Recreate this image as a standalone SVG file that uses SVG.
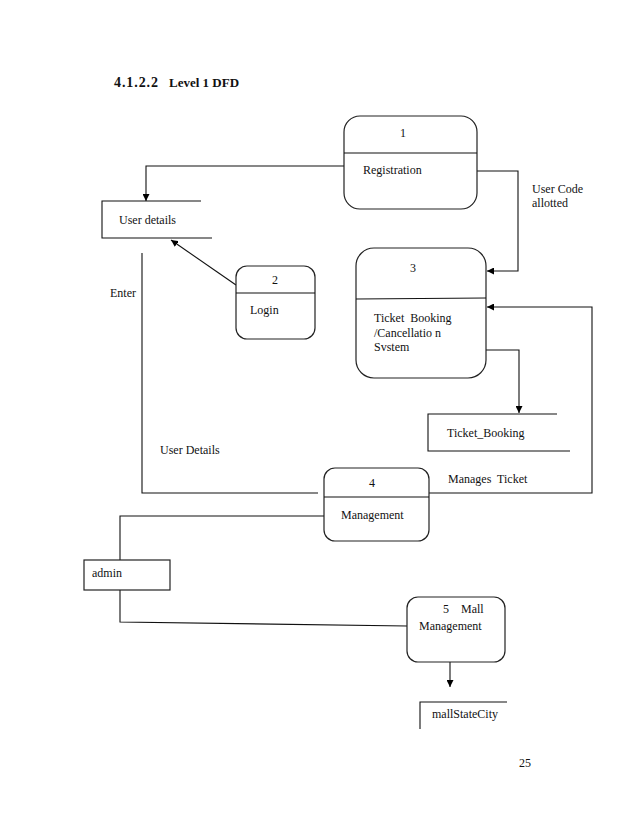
<svg xmlns="http://www.w3.org/2000/svg" width="638" height="826" viewBox="0 0 638 826">
<defs>
<marker id="ah" viewBox="0 0 10 10" refX="10" refY="5" markerWidth="7" markerHeight="7" orient="auto" markerUnits="userSpaceOnUse">
<path d="M0,0 L10,5 L0,10 z" fill="#000"/>
</marker>
<style>
text{font-family:"Liberation Serif","Times New Roman",serif;font-size:12px;fill:#111}
.p{fill:#fff;stroke:#222;stroke-width:1.2}
.l{fill:none;stroke:#111;stroke-width:1.1}
.c{fill:none;stroke:#111;stroke-width:1.1}
.m{text-anchor:middle}
.t{font-weight:bold;font-size:14px}
.t2{font-weight:bold;font-size:13px}
</style>
</defs>
<rect width="638" height="826" fill="#fff"/>
<text class="t" x="114" y="87" textLength="44">4.1.2.2</text>
<text class="t2" x="169" y="87">Level 1 DFD</text>

<g id="connectors">
<path class="c" d="M344,166 H146 V201" marker-end="url(#ah)"/>
<path class="c" d="M236,285 L171,240" marker-end="url(#ah)"/>
<path class="c" d="M477,171 H518 V271 H487" marker-end="url(#ah)"/>
<path class="c" d="M486,350 H519 V413" marker-end="url(#ah)"/>
<path class="c" d="M429,493 H592 V307 H487" marker-end="url(#ah)"/>
<path class="c" d="M142,253 V493 H318"/>
<path class="c" d="M324,516 H120 V560"/>
<path class="c" d="M120,590 V622 L407,626"/>
<path class="c" d="M450,662 V687" marker-end="url(#ah)"/>
<text x="532" y="193">User Code</text>
<text x="532" y="207">allotted</text>
<text x="110" y="297">Enter</text>
<text x="160" y="454">User Details</text>
<text x="448" y="483" xml:space="preserve">Manages  Ticket</text>
</g>

<g id="node1">
<rect class="p" x="344" y="116" width="133" height="93" rx="16"/>
<line class="l" x1="344" y1="153" x2="477" y2="153"/>
<text class="m" x="403" y="137">1</text>
<text x="363" y="174">Registration</text>
</g>

<g id="userdetails">
<path class="l" d="M201,201 H102 V238 H212"/>
<text x="119" y="224">User details</text>
</g>

<g id="node2">
<rect class="p" x="236" y="266" width="79" height="73" rx="11"/>
<line class="l" x1="236" y1="293" x2="315" y2="293"/>
<text class="m" x="275" y="284">2</text>
<text x="250" y="314">Login</text>
</g>

<g id="node3">
<rect class="p" x="356" y="248" width="130" height="130" rx="18"/>
<line class="l" x1="356" y1="299" x2="486" y2="298"/>
<text class="m" x="413" y="272">3</text>
<text x="374" y="322" xml:space="preserve">Ticket  Booking</text>
<text x="374" y="337">/Cancellatio n</text>
<text x="374" y="351">Svstem</text>
</g>

<g id="ticketbooking">
<path class="l" d="M557,414 H428 V451 H570"/>
<text x="447" y="437">Ticket_Booking</text>
</g>

<g id="node4">
<rect class="p" x="324" y="468" width="105" height="73" rx="11"/>
<line class="l" x1="324" y1="497" x2="429" y2="497"/>
<text class="m" x="372" y="487">4</text>
<text x="341" y="519">Management</text>
</g>

<g id="admin">
<rect class="p" x="84" y="560" width="86" height="30"/>
<text x="92" y="577">admin</text>
</g>

<g id="node5">
<rect class="p" x="407" y="597" width="98" height="65" rx="11"/>
<text x="443" y="613" xml:space="preserve">5    Mall</text>
<text x="419" y="630">Management</text>
</g>

<g id="mallstatecity">
<path class="l" d="M507,702 H420 V729"/>
<text x="432" y="718">mallStateCity</text>
</g>

<text x="519" y="767">25</text>
</svg>
